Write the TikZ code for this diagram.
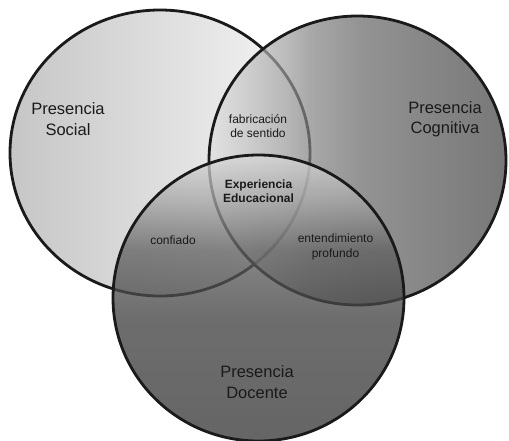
\documentclass[tikz,border=0pt]{standalone}
\usepackage{fontspec}
\setmainfont{Liberation Sans}
\definecolor{ink}{HTML}{1A1A1A}
\definecolor{sA}{gray}{0.776}
\definecolor{sB}{gray}{0.965}
\definecolor{cA}{gray}{0.882}
\definecolor{cB}{gray}{0.745}
\definecolor{cC}{gray}{0.62}
\definecolor{cD}{gray}{0.51}
\definecolor{cE}{gray}{0.392}
\definecolor{cF}{gray}{0.314}
\definecolor{cG}{gray}{0.235}
\definecolor{dA}{gray}{0.21}
\definecolor{dB}{gray}{0.25}
\definecolor{dC}{gray}{0.38}
\definecolor{dD}{gray}{0.65}
\definecolor{dE}{gray}{0.85}
\pgfdeclarehorizontalshading{socialshade}{100bp}{color(0bp)=(sA); color(25bp)=(sA); color(75bp)=(sB); color(100bp)=(sB)}
\pgfdeclarehorizontalshading{cogshade}{100bp}{color(0bp)=(cA); color(25bp)=(cA); color(31.9bp)=(cB); color(37.8bp)=(cC); color(42bp)=(cD); color(50.4bp)=(cE); color(62.2bp)=(cF); color(75bp)=(cG); color(100bp)=(cG)}
\pgfdeclareverticalshading{docshade}{100bp}{color(0bp)=(dA); color(25bp)=(dA); color(46.2bp)=(dB); color(58.4bp)=(dC); color(67.1bp)=(dD); color(75bp)=(dE); color(100bp)=(dE)}
\tikzset{
  circ/.style={draw=ink, line width=2.8pt},
  big/.style={align=center, text=ink, font=\fontsize{16.5}{20.5}\selectfont},
  small/.style={align=center, text=ink, font=\fontsize{12}{14.5}\selectfont},
  smallbold/.style={align=center, text=ink, font=\fontsize{12}{14}\selectfont\bfseries}
}
\begin{document}
\begin{tikzpicture}[x=1pt, y=-1pt]
\useasboundingbox (0,0) rectangle (509,441);
\fill[white] (0,0) rectangle (509,441);
% Presencia Social
\shade[shading=socialshade] (160,153) ellipse [x radius=150pt, y radius=143pt];
\draw[circ] (160,153) ellipse [x radius=150pt, y radius=143pt];
% Presencia Cognitiva
\shade[shading=cogshade, fill opacity=0.69] (357.5,160.5) ellipse [x radius=148.5pt, y radius=144.5pt];
\draw[circ] (357.5,160.5) ellipse [x radius=148.5pt, y radius=144.5pt];
% Presencia Docente
\shade[shading=docshade, fill opacity=0.76] (258.5,298) ellipse [x radius=145.5pt, y radius=143pt];
\draw[circ] (258.5,298) ellipse [x radius=145.5pt, y radius=143pt];
% labels
\node[big] (ps) at (68,119) {Presencia\\Social};
\node[big] (pc) at (445,119) {Presencia\\Cognitiva};
\node[big] (pd) at (257,382) {Presencia\\Docente};
\node[small] (fs) at (258,126) {fabricación\\de sentido};
\node[smallbold] (ee) at (258.5,191) {Experiencia\\Educacional};
\node[small] (cf) at (173,240) {confiado};
\node[small] (ep) at (335.5,247) {entendimiento\\profundo};
\end{tikzpicture}
\end{document}
